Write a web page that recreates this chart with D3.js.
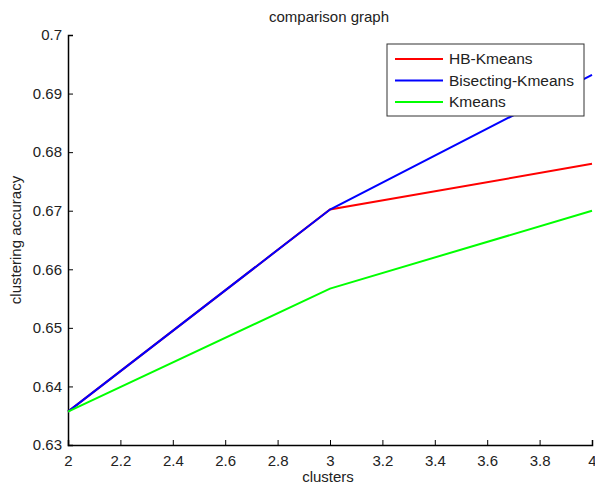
<!DOCTYPE html>
<html>
<head>
<meta charset="utf-8">
<script src="https://cdn.jsdelivr.net/npm/d3@7"></script>
<style>
  body { margin: 0; background: #fff; }
  text { font-family: "Liberation Sans", Arial, sans-serif; fill: #222; }
</style>
</head>
<body>
<svg id="chart" width="595" height="486"></svg>
<script>
// chart values
var clusters = [2, 3, 4];
var hbKmeans = [0.6357, 0.6702, 0.6780];
var bisectingKmeans = [0.6357, 0.6702, 0.6932];
var kmeans = [0.6357, 0.6567, 0.6700];
var seriesNames = ["HB-Kmeans", "Bisecting-Kmeans", "Kmeans"];
var seriesColors = ["#ff0000", "#0000ff", "#00ff00"];
var xTicks = [2, 2.2, 2.4, 2.6, 2.8, 3, 3.2, 3.4, 3.6, 3.8, 4];
var yTicks = [0.63, 0.64, 0.65, 0.66, 0.67, 0.68, 0.69, 0.7];

var svg = d3.select("#chart");

var margin = {
  top: 35,
  right: 3,
  bottom: 41,
  left: 68
};
var plotWidth = 595 - margin.left - margin.right;
var plotHeight = 486 - margin.top - margin.bottom;

var xScale = d3.scaleLinear().domain([2, 4]).range([0, plotWidth]);
var yScale = d3.scaleLinear().domain([0.63, 0.7]).range([plotHeight, 0]);

var plot = svg.append("g")
  .attr("transform", "translate(" + margin.left + "," + margin.top + ")");

// axes, ticks point inward like matlab
var xAxis = d3.axisBottom(xScale).tickValues(xTicks).tickSize(-5).tickPadding(10)
  .tickFormat(d3.format("~g"));
var xGroup = plot.append("g").attr("transform", "translate(0," + plotHeight + ")").call(xAxis);

var yAxis = d3.axisLeft(yScale).tickValues(yTicks).tickSize(-5).tickPadding(6)
  .tickFormat(d3.format("~g"));
var yGroup = plot.append("g").call(yAxis);

[xGroup, yGroup].forEach(function(g) {
  g.selectAll("path").attr("stroke", "#000").attr("stroke-width", 1.5);
  g.selectAll("line").attr("stroke", "#000");
  g.selectAll("text").style("font-size", "15px").attr("fill", "#222");
  g.attr("font-family", null);
});

var lineGen = d3.line()
  .x(function(d, i) { return xScale(clusters[i]); })
  .y(function(d) { return yScale(d); });

var allSeries = [hbKmeans, bisectingKmeans, kmeans];
allSeries.forEach(function(s, i) {
  plot.append("path")
    .attr("d", lineGen(s))
    .attr("fill", "none")
    .attr("stroke", seriesColors[i])
    .attr("stroke-width", 2);
});

// title and labels
svg.append("text")
  .attr("x", 329).attr("y", 22)
  .style("text-anchor", "middle").style("font-size", "15px")
  .text("comparison graph");

svg.append("text")
  .attr("x", 328).attr("y", 482)
  .style("text-anchor", "middle").style("font-size", "15px")
  .text("clusters");

svg.append("text")
  .attr("transform", "translate(21," + (margin.top + plotHeight / 2) + ") rotate(-90)")
  .style("text-anchor", "middle").style("font-size", "15px")
  .text("clustering accuracy");

// legend
var legend = svg.append("g");
legend.append("rect")
  .attr("x", 387).attr("y", 44).attr("width", 197).attr("height", 72)
  .attr("fill", "#fff").attr("stroke", "#333").attr("stroke-width", 1);

seriesNames.forEach(function(name, i) {
  var y = 59 + i * 21.5;
  legend.append("line")
    .attr("x1", 395).attr("x2", 443).attr("y1", y).attr("y2", y)
    .attr("stroke", seriesColors[i]).attr("stroke-width", 2);
  legend.append("text")
    .attr("x", 449).attr("y", y + 5)
    .style("font-size", "15.5px")
    .text(name);
});
</script>
</body>
</html>
